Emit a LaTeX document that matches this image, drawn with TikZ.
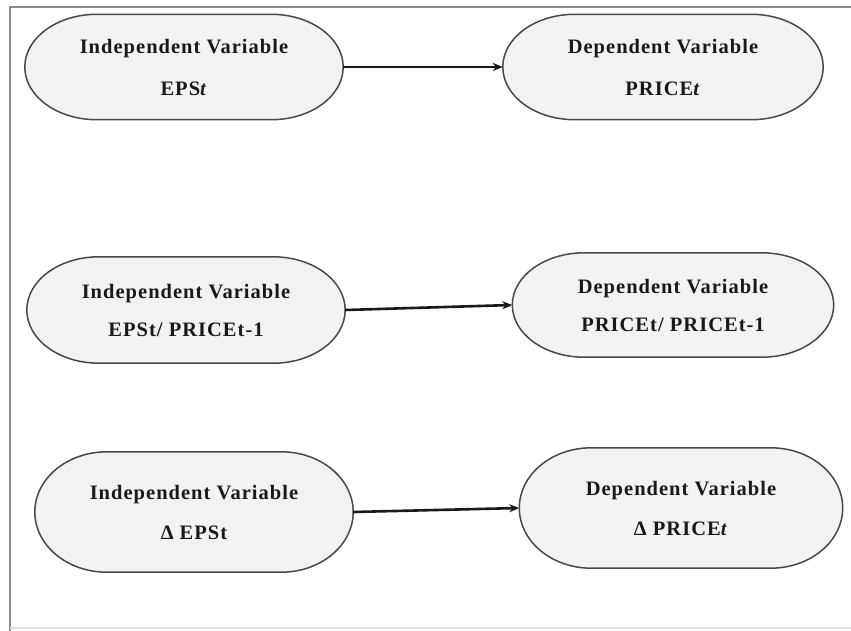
\documentclass[tikz,border=0pt]{standalone}
\usepackage{fontspec}
\setmainfont{Liberation Serif}
\usetikzlibrary{arrows.meta,calc,backgrounds}

\definecolor{boxfill}{HTML}{F2F2F2}
\definecolor{boxline}{HTML}{484848}
\definecolor{framegray}{HTML}{8A8A8A}

\tikzset{
  varbox/.style={align=center, inner sep=0pt, text=black!90,
    font=\bfseries\fontsize{20.5}{24}\selectfont\addfontfeature{LetterSpace=5}},
  varline/.style={draw=boxline, line width=1.5pt, fill=boxfill},
  link/.style={line width=2.6pt, black!90, -{Stealth[length=10pt,width=8pt]}}
}

\begin{document}
\begin{tikzpicture}[x=1pt,y=1pt]

\useasboundingbox (0,0) rectangle (851,-631);

% frame
\draw [framegray, line width=2pt] (851,-7) -- (10,-7) -- (10,-631);
\draw [black!12, line width=1.5pt] (10,-628) -- (851,-628);

% variables
\node [varbox, minimum width=318, minimum height=105] (in1) at (184,-67) {Independent Variable\\[18pt]EPS\textit{t}};
\node [varbox, minimum width=320, minimum height=105] (dep1) at (663,-67) {Dependent Variable\\[18pt]PRICE\textit{t}};
\node [varbox, minimum width=318, minimum height=106] (in2) at (186,-310) {Independent Variable\\[14pt]EPSt/ PRICEt-1};
\node [varbox, minimum width=321, minimum height=104] (dep2) at (673,-305) {Dependent Variable\\[14pt]PRICEt/ PRICEt-1};
\node [varbox, minimum width=318, minimum height=120] (in3) at (194,-512) {Independent Variable\\[16pt]Δ EPSt};
\node [varbox, minimum width=323, minimum height=120] (dep3) at (681,-508) {Dependent Variable\\[16pt]Δ PRICE\textit{t}};

% rounded outlines
\begin{scope}[on background layer]
\foreach \v in {in1,dep1,in2,dep2,in3,dep3}
  \draw [varline] let \p1=(\v.north east), \p2=(\v.south west) in
    ($(\v.north west)+(72,0)$) -- ($(\v.north east)+(-72,0)$)
    arc[start angle=90, end angle=-90, x radius=72pt, y radius={(\y1-\y2)/2}]
    -- ($(\v.south west)+(72,0)$)
    arc[start angle=270, end angle=90, x radius=72pt, y radius={(\y1-\y2)/2}]
    -- cycle;
\end{scope}

% links
\draw [link] (in1.east) -- (dep1.west);
\draw [link] (in2.east) -- (dep2.west);
\draw [link] (in3.east) -- (dep3.west);

\end{tikzpicture}
\end{document}
